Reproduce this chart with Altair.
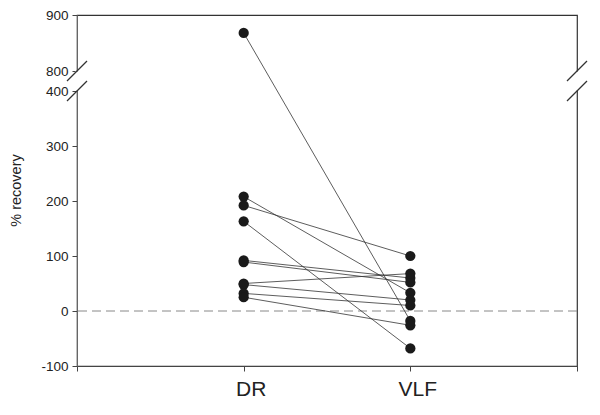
import altair as alt
import pandas as pd

# ---- data ----
subjects = ["s1", "s2", "s3", "s4", "s5", "s6", "s7", "s8", "s9", "s10"]
dr_values = [868, 208, 192, 163, 92, 89, 50, 48, 32, 25]
vlf_values = [-18, 33, 100, -68, 60, 52, 68, 20, 10, -26]
conditions = ["DR", "VLF"]
cond_pos = [1, 2]
y_ticks = [-100, 0, 100, 200, 300, 400, 800, 900]

rows = []
for s, a, b in zip(subjects, dr_values, vlf_values):
    rows.append({"subject": s, "cond": conditions[0], "pos": cond_pos[0], "value": a})
    rows.append({"subject": s, "cond": conditions[1], "pos": cond_pos[1], "value": b})
df = pd.DataFrame(rows)

FONT = "Liberation Sans"
W, H = 500, 351

yscale = alt.Scale(domain=[-100, 400, 800, 900], range=[H, 76, 56, 0],
                   zero=False, nice=False)
xscale = alt.Scale(domain=[0, 3], nice=False, zero=False)

x_enc = alt.X("pos:Q", scale=xscale,
              axis=alt.Axis(values=[0, 1, 2, 3], title=None, grid=False,
                            labelExpr="datum.value == 1 ? 'DR' : datum.value == 2 ? 'VLF' : ''",
                            labelFontSize=21, labelFont=FONT, labelColor="#222",
                            labelPadding=7, labelOffset=7, tickSize=5,
                            domainColor="#444", tickColor="#444"))
y_enc = alt.Y("value:Q", scale=yscale,
              axis=alt.Axis(values=y_ticks, title="% recovery", grid=False,
                            labelExpr="'' + datum.value",
                            labelFontSize=13.5, labelFont=FONT, labelColor="#222",
                            labelFontWeight="normal", tickSize=5, labelPadding=4,
                            domainColor="#666", tickColor="#444",
                            titleFont=FONT, titleFontSize=14.5, titleFontWeight="normal",
                            titleColor="#222", titleX=-61, titleY=175,
                            titleAngle=-90, titleAlign="center", titleBaseline="middle"))

base = alt.Chart(df)

zero_line = base.mark_rule(color="#888", strokeDash=[9, 5], strokeWidth=1).encode(
    y=alt.datum(0, scale=yscale)
).transform_filter("datum.subject == 's1' && datum.cond == 'DR'")

lines = base.mark_line(color="#333", strokeWidth=0.8).encode(
    x=x_enc, y=y_enc, detail="subject:N", order="pos:Q"
)
points = base.mark_circle(size=105, color="#1a1a1a", opacity=1).encode(
    x=x_enc, y=y_enc
)

# broken-axis decorations (white gap + slashes), positioned through the scales
brk = pd.DataFrame({"xpos": [0, 3]})
gap = alt.Chart(brk).mark_rule(color="white", strokeWidth=4).encode(
    x=alt.X("xpos:Q", scale=xscale),
    y=alt.datum(790, scale=yscale), y2=alt.datum(410)
)
slash_hi = alt.Chart(brk).mark_rule(color="#333", strokeWidth=1.2,
                                    xOffset=-10, x2Offset=10, yOffset=10, y2Offset=-10).encode(
    x=alt.X("xpos:Q", scale=xscale), x2="xpos:Q",
    y=alt.datum(800, scale=yscale), y2=alt.datum(800)
)
slash_lo = alt.Chart(brk).mark_rule(color="#333", strokeWidth=1.2,
                                    xOffset=-10, x2Offset=10, yOffset=10, y2Offset=-10).encode(
    x=alt.X("xpos:Q", scale=xscale), x2="xpos:Q",
    y=alt.datum(400, scale=yscale), y2=alt.datum(400)
)

chart = alt.layer(zero_line, lines, points, gap, slash_hi, slash_lo).properties(
    width=W, height=H,
    autosize=alt.AutoSizeParams(type="none"),
    padding={"left": 69, "top": 7, "right": 15, "bottom": 40},
).configure_view(stroke="#333", strokeWidth=1.2)

chart.save("out.html", embed_options={"renderer": "svg", "actions": False})
